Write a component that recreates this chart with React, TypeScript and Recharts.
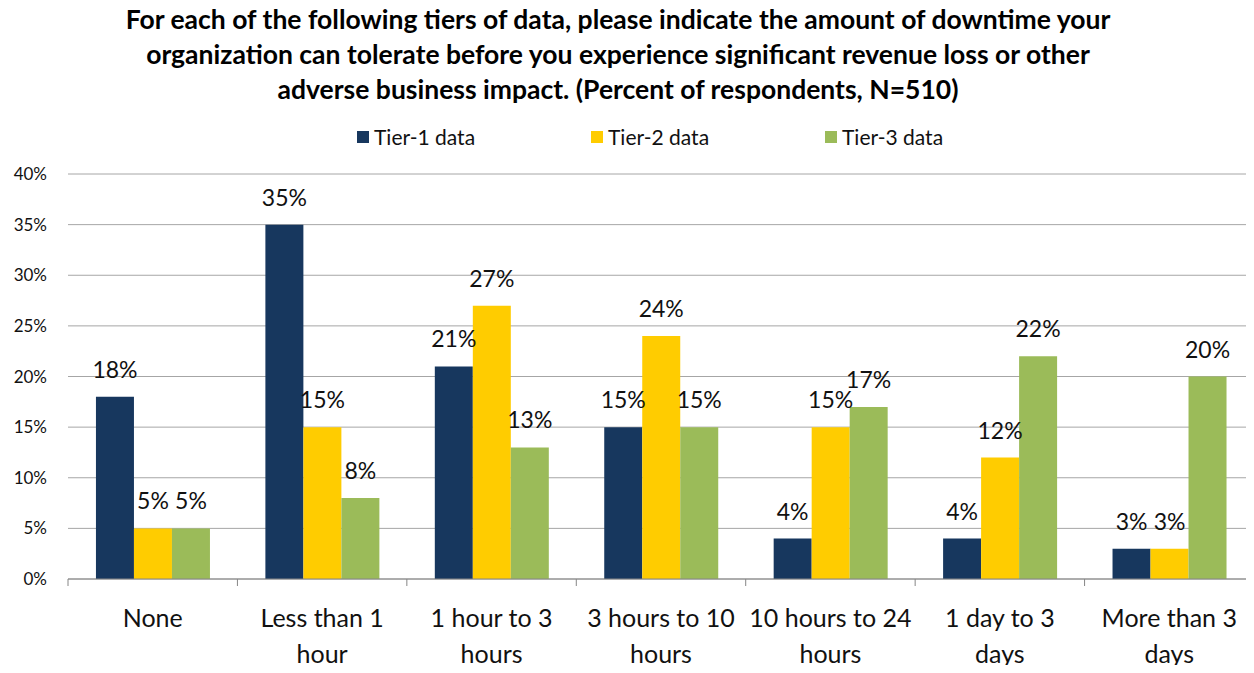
import React from 'react';
import { BarChart, Bar, XAxis, YAxis, CartesianGrid, LabelList } from "recharts";

// values (percent of respondents)
const categories = ["None", "Less than 1 hour", "1 hour to 3 hours", "3 hours to 10 hours", "10 hours to 24 hours", "1 day to 3 days", "More than 3 days"];
const tier1 = [18, 35, 21, 15, 4, 4, 3];
const tier2 = [5, 15, 27, 24, 15, 12, 3];
const tier3 = [5, 8, 13, 15, 17, 22, 20];
const yTicks = [0, 5, 10, 15, 20, 25, 30, 35, 40];

const seriesNames = ["Tier-1 data", "Tier-2 data", "Tier-3 data"];
const colors = ["#17375E", "#FFCC00", "#9BBB59"];

const data = categories.map((c, i) => ({ name: c, t1: tier1[i], t2: tier2[i], t3: tier3[i] }));

const FONT = "Lato, 'Open Sans', sans-serif";
const W = 1254;
const H = 673;
const LEFT = 68;
const BAND = (W - LEFT) / categories.length;

// category label: last word goes on a second line, ticks at band edges
const CategoryTick = (props: any) => {
  const { x, y, payload, index } = props;
  const words = String(payload.value).split(" ");
  const lines = words.length > 1 ? [words.slice(0, -1).join(" "), words[words.length - 1]] : [words[0]];
  const left = x - BAND / 2;
  return (
    <g>
      <line x1={left} y1={y - 8} x2={left} y2={y - 1} stroke="#868686" />
      {index === categories.length - 1 && (
        <line x1={left + BAND - 1} y1={y - 8} x2={left + BAND - 1} y2={y - 1} stroke="#868686" />
      )}
      {lines.map((l, i) => (
        <text key={i} x={x} y={y + 40 + i * 36} textAnchor="middle" fontSize={25} fontFamily={FONT} fill="#111">
          {l}
        </text>
      ))}
    </g>
  );
};

const App = () => {
  return (
    <div style={{ position: "relative", width: W, height: H, margin: -8, background: "#fff" }}>
      {/* Title */}
      <div style={{ position: "absolute", top: 2, left: 0, width: W - 18, textAlign: "center", fontFamily: FONT, fontWeight: 700, fontSize: 26.5, lineHeight: "35px", color: "#000" }}>
        For each of the following tiers of data, please indicate the amount of downtime your<br />
        organization can tolerate before you experience significant revenue loss or other<br />
        adverse business impact. (Percent of respondents, N=510)
      </div>
      {/* Legend */}
      <div style={{ position: "absolute", top: 124, left: 357, display: "flex", fontFamily: FONT, fontSize: 21, color: "#111" }}>
        {seriesNames.map((n, i) => (
          <div key={n} style={{ display: "flex", alignItems: "center", width: 234 }}>
            <span style={{ width: 12, height: 12, background: colors[i], marginRight: 5, display: "inline-block" }} />
            {n}
          </div>
        ))}
      </div>
      <div style={{ position: "absolute", top: 0, left: 0 }}>
        <BarChart width={W} height={H} data={data} margin={{ top: 174, right: 0, bottom: 0, left: 8 }} barCategoryGap="16.5%" barGap={0}>
          <CartesianGrid vertical={false} stroke="#A6A6A6" />
          <XAxis dataKey="name" interval={0} tickLine={false} axisLine={{ stroke: "#868686" }} tick={<CategoryTick />} height={94} />
          <YAxis width={60} domain={[0, 40]} ticks={yTicks} axisLine={false} tickLine={false} tickMargin={15}
            tickFormatter={(v) => `${v}%`} tick={{ fontSize: 17, fontFamily: FONT, fill: "#111" }} />
          {["t1", "t2", "t3"].map((k, i) => (
            <Bar key={k} dataKey={k} name={seriesNames[i]} fill={colors[i]} isAnimationActive={false}>
              <LabelList dataKey={k} position="top" offset={19} formatter={(v: any) => `${v}%`} fontSize={23} fontFamily={FONT} fill="#111" />
            </Bar>
          ))}
        </BarChart>
      </div>
    </div>
  );
};

export default App;
